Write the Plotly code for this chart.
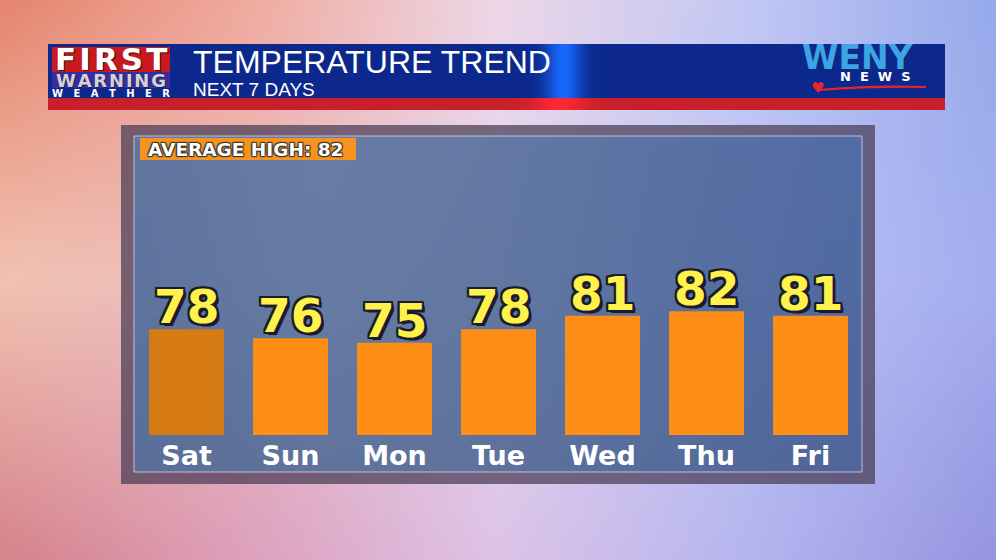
import base64, struct, zlib
import numpy as np
import plotly.graph_objects as go

# ---------------- data ----------------
days = ["Sat", "Sun", "Mon", "Tue", "Wed", "Thu", "Fri"]
highs = [78, 76, 75, 78, 81, 82, 81]
bar_colors = ["#D67B14", "#FF8E17", "#FF8E17", "#FF8E17", "#FF8E17", "#FF8E17", "#FF8E17"]
title_text = "TEMPERATURE TREND"
subtitle_text = "NEXT 7 DAYS"
avg_label = "AVERAGE HIGH: 82"

W, H = 996, 560
NB = "\u00a0"


def px(x):
    return x / W


def py(y):
    return 1 - y / H


# ---------------- gradient images (decoration) ----------------
def make_png(arr):
    h, w, _ = arr.shape
    raw = b"".join(b"\x00" + arr[i].astype(np.uint8).tobytes() for i in range(h))

    def chunk(t, d):
        c = struct.pack(">I", len(d)) + t + d
        return c + struct.pack(">I", zlib.crc32(t + d) & 0xFFFFFFFF)

    png = b"\x89PNG\r\n\x1a\n" + chunk(b"IHDR", struct.pack(">IIBBBBB", w, h, 8, 2, 0, 0, 0))
    png += chunk(b"IDAT", zlib.compress(raw, 9)) + chunk(b"IEND", b"")
    return "data:image/png;base64," + base64.b64encode(png).decode()


def grid_image(ctrl, gw, gh):
    ctrl = np.array(ctrl, dtype=float)
    nr, nc = ctrl.shape[0] - 1, ctrl.shape[1] - 1
    out = np.zeros((gh, gw, 3))
    for j, yy in enumerate(np.linspace(0, nr, gh)):
        r0 = min(int(yy), nr - 1)
        fy = yy - r0
        for i, xx in enumerate(np.linspace(0, nc, gw)):
            c0 = min(int(xx), nc - 1)
            fx = xx - c0
            top = ctrl[r0, c0] * (1 - fx) + ctrl[r0, c0 + 1] * fx
            bot = ctrl[r0 + 1, c0] * (1 - fx) + ctrl[r0 + 1, c0 + 1] * fx
            out[j, i] = top * (1 - fy) + bot * fy
    return make_png(np.clip(out, 0, 255))


bg_uri = grid_image([
    [(230, 135, 112), (240, 172, 160), (238, 215, 232), (195, 200, 245), (150, 170, 235)],
    [(242, 195, 178), (235, 188, 195), (228, 215, 240), (188, 196, 245), (165, 175, 240)],
    [(215, 132, 140), (222, 162, 190), (222, 196, 232), (182, 182, 240), (150, 150, 225)],
], 100, 56)

panel_uri = grid_image([
    [(96, 118, 160), (104, 126, 166), (100, 122, 164), (90, 114, 164), (82, 108, 165)],
    [(94, 116, 158), (102, 124, 164), (98, 120, 162), (88, 112, 162), (80, 106, 162)],
    [(90, 110, 152), (96, 116, 156), (94, 114, 156), (86, 108, 156), (80, 102, 155)],
], 80, 40)

hx = np.linspace(0, 1, 300)
hdr = np.zeros((1, 300, 3))
red = np.zeros((1, 300, 3))
for i, t in enumerate(hx):
    g = np.exp(-((t - 0.575) / 0.02) ** 2)
    hdr[0, i] = np.array([12, 40, 140]) * (1 - g) + np.array([25, 105, 255]) * g
    g2 = np.exp(-((t - 0.57) / 0.03) ** 2)
    red[0, i] = np.array([200, 32, 42]) * (1 - g2) + np.array([255, 40, 52]) * g2
hdr_uri = make_png(np.clip(hdr, 0, 255))
red_uri = make_png(np.clip(red, 0, 255))

# ---------------- figure ----------------
fig = go.Figure()
fig.add_trace(go.Bar(
    x=days, y=highs, marker=dict(color=bar_colors, line=dict(width=0)),
    hoverinfo="skip", showlegend=False,
))

outline = ", ".join(f"{dx}px {dy}px 0 #1b1b2b" for dx, dy in
                    [(2, 2), (-2, -2), (2, -2), (-2, 2), (0, 2), (2, 0), (0, -2), (-2, 0), (3, 3)])

annotations = []
for d, v in zip(days, highs):
    annotations.append(dict(
        x=d, y=v, xref="x", yref="y", text=str(v), showarrow=False,
        yanchor="bottom", yshift=-7,
        font=dict(family="DejaVu Sans", size=47, color="#FFF24A", weight="bold", shadow=outline),
    ))


def spaced(word, sep):
    return sep.join(word)


annotations += [
    dict(x=px(191), y=py(62), xref="paper", yref="paper", text=title_text, showarrow=False,
         xanchor="left", yanchor="middle",
         font=dict(family="Liberation Sans", size=32, color="white")),
    dict(x=px(191), y=py(89), xref="paper", yref="paper", text=subtitle_text, showarrow=False,
         xanchor="left", yanchor="middle",
         font=dict(family="Liberation Sans", size=19, color="white")),
    dict(x=px(111), y=py(59.5), xref="paper", yref="paper", text=spaced("FIRST", "\u200a"),
         showarrow=False, xanchor="center", yanchor="middle",
         font=dict(family="DejaVu Sans", size=31, color="white", weight="bold",
                   shadow="1px 1px 0 #401010")),
    dict(x=px(111), y=py(80.5), xref="paper", yref="paper", text=spaced("WARNING", "\u200a"),
         showarrow=False, xanchor="center", yanchor="middle",
         font=dict(family="DejaVu Sans", size=18, color="#D2D2DA", weight="bold",
                   shadow="1px 1px 0 #202040")),
    dict(x=px(111), y=py(93.5), xref="paper", yref="paper", text=spaced("WEATHER", NB * 3),
         showarrow=False, xanchor="center", yanchor="middle",
         font=dict(family="DejaVu Sans", size=10, color="white", weight="bold")),
    dict(x=px(858), y=py(57.5), xref="paper", yref="paper", text="WENY", showarrow=False,
         xanchor="center", yanchor="middle",
         font=dict(family="DejaVu Sans", size=33, color="#3DA4E6", weight="bold",
                   shadow="1px 1px 0 #0a2a6a")),
    dict(x=px(875), y=py(77), xref="paper", yref="paper", text=spaced("NEWS", NB * 2),
         showarrow=False, xanchor="center", yanchor="middle",
         font=dict(family="DejaVu Sans", size=13, color="white", weight="bold")),
    dict(x=px(817), y=py(88), xref="paper", yref="paper", text="♥", showarrow=False,
         xanchor="center", yanchor="middle",
         font=dict(family="DejaVu Sans", size=15, color="#E8252F")),
    dict(x=px(146), y=py(149.5), xref="paper", yref="paper", text=avg_label, showarrow=False,
         xanchor="left", yanchor="middle",
         font=dict(family="DejaVu Sans", size=18.5, color="white", weight="bold",
                   shadow="1px 1px 1px #333, -1px -1px 1px #333, 1px -1px 1px #333, -1px 1px 1px #333")),
]

frame = "rgba(70,60,85,0.72)"
shapes = [
    dict(type="rect", xref="paper", yref="paper", layer="below",
         x0=px(121), x1=px(875), y0=py(136), y1=py(125), fillcolor=frame, line=dict(width=0)),
    dict(type="rect", xref="paper", yref="paper", layer="below",
         x0=px(121), x1=px(875), y0=py(484), y1=py(472), fillcolor=frame, line=dict(width=0)),
    dict(type="rect", xref="paper", yref="paper", layer="below",
         x0=px(121), x1=px(134), y0=py(472), y1=py(136), fillcolor=frame, line=dict(width=0)),
    dict(type="rect", xref="paper", yref="paper", layer="below",
         x0=px(862), x1=px(875), y0=py(472), y1=py(136), fillcolor=frame, line=dict(width=0)),
    dict(type="rect", xref="paper", yref="paper", layer="below",
         x0=px(134), x1=px(862), y0=py(472), y1=py(136),
         fillcolor="rgba(0,0,0,0)", line=dict(width=1, color="rgba(215,205,235,0.85)")),
    dict(type="rect", xref="paper", yref="paper", layer="below",
         x0=px(140), x1=px(356), y0=py(160), y1=py(138),
         fillcolor="#F7941D", line=dict(width=0)),
    dict(type="rect", xref="paper", yref="paper", layer="above",
         x0=px(52), x1=px(170), y0=py(72), y1=py(47),
         fillcolor="#C8191F", line=dict(width=0)),
    dict(type="rect", xref="paper", yref="paper", layer="above",
         x0=px(52), x1=px(170), y0=py(88), y1=py(72),
         fillcolor="#3B2C9E", line=dict(width=0)),
    dict(type="path", xref="paper", yref="paper", layer="above",
         path=f"M {px(820)},{py(89)} Q {px(870)},{py(84)} {px(926)},{py(86)} "
              f"L {px(926)},{py(88)} Q {px(870)},{py(87)} {px(820)},{py(91)} Z",
         fillcolor="#E8252F", line=dict(width=0)),
]

images = [
    dict(source=bg_uri, xref="paper", yref="paper", x=0, y=1, sizex=1, sizey=1,
         sizing="stretch", layer="below", xanchor="left", yanchor="top"),
    dict(source=panel_uri, xref="paper", yref="paper", x=px(134), y=py(136),
         sizex=px(862) - px(134), sizey=(472 - 136) / H,
         sizing="stretch", layer="below", xanchor="left", yanchor="top"),
    dict(source=hdr_uri, xref="paper", yref="paper", x=px(48), y=py(44),
         sizex=px(945) - px(48), sizey=(98 - 44) / H,
         sizing="stretch", layer="below", xanchor="left", yanchor="top"),
    dict(source=red_uri, xref="paper", yref="paper", x=px(48), y=py(98),
         sizex=px(945) - px(48), sizey=(110 - 98) / H,
         sizing="stretch", layer="below", xanchor="left", yanchor="top"),
]

y_lo = 54.5
y_hi = y_lo + (435 - 136) / 4.5

fig.update_layout(
    width=W, height=H, margin=dict(l=0, r=0, t=0, b=0),
    paper_bgcolor="#D8B8D8", plot_bgcolor="rgba(0,0,0,0)",
    bargap=0.28,
    xaxis=dict(domain=[px(134.5), px(862.5)], showgrid=False, zeroline=False, showline=False,
               ticks="", tickfont=dict(family="DejaVu Sans", size=27, color="white", weight="bold"),
               ticklabelstandoff=2, fixedrange=True),
    yaxis=dict(domain=[py(435), py(136)], range=[y_lo, y_hi], visible=False, fixedrange=True),
    shapes=shapes, annotations=annotations, images=images,
)

fig.write_html("out.html", post_script="document.body.style.margin='0';", config={"displayModeBar": False})
